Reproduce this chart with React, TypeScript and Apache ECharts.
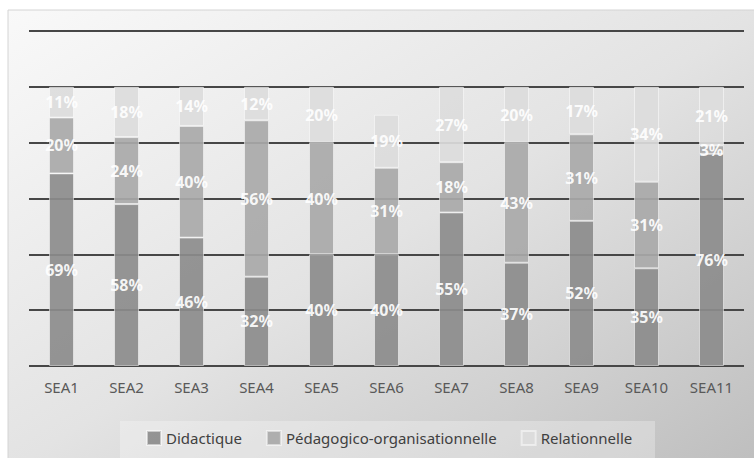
import React, { useEffect, useRef } from "react";
import * as echarts from "echarts";

const categories = ["SEA1", "SEA2", "SEA3", "SEA4", "SEA5", "SEA6", "SEA7", "SEA8", "SEA9", "SEA10", "SEA11"];
const didactique = [69, 58, 46, 32, 40, 40, 55, 37, 52, 35, 76];
const pedagogico = [20, 24, 40, 56, 40, 31, 18, 43, 31, 31, 3];
const relationnelle = [11, 18, 14, 12, 20, 19, 27, 20, 17, 34, 21];
const seriesNames = ["Didactique", "Pédagogico-organisationnelle", "Relationnelle"];

export default function App() {
  const ref = useRef<HTMLDivElement>(null);
  useEffect(() => {
    document.body.style.margin = "0";
    const chart = echarts.init(ref.current!, null, { renderer: "svg" });
    const font = "'Noto Sans', 'Open Sans', sans-serif";
    const label = {
      show: true,
      position: "inside" as const,
      formatter: "{c}%",
      color: "#ffffff",
      fontWeight: "bold" as const,
      fontSize: 16,
      fontFamily: font,
    };
    const mk = (name: string, data: number[], color: string) => ({
      name,
      type: "bar" as const,
      stack: "total",
      data,
      barWidth: 25,
      itemStyle: { color, borderColor: "rgba(255,255,255,0.55)", borderWidth: 1, opacity: 0.92 },
      label,
    });
    chart.setOption({
      animation: false,
      graphic: [
        {
          type: "rect",
          z: -10,
          shape: { x: 8, y: 10, width: 760, height: 460 },
          style: {
            fill: new echarts.graphic.LinearGradient(0, 0, 1, 1, [
              { offset: 0, color: "#f9f9f9" },
              { offset: 0.5, color: "#e3e3e3" },
              { offset: 1, color: "#bdbdbd" },
            ]),
            stroke: "#d4d4d4",
            lineWidth: 1,
          },
        },
        {
          type: "rect",
          z: -9,
          shape: { x: 120, y: 421, width: 535, height: 40 },
          style: { fill: "rgba(255,255,255,0.28)" },
        },
      ],
      grid: { left: 29, right: 10, top: 31, bottom: 92 },
      xAxis: {
        type: "category",
        data: categories,
        axisLine: { show: false },
        axisTick: { show: false },
        axisLabel: { color: "#595959", fontSize: 15, fontFamily: font, margin: 13 },
      },
      yAxis: {
        type: "value",
        min: 0,
        max: 120,
        interval: 20,
        axisLabel: { show: false },
        axisLine: { show: false },
        axisTick: { show: false },
        splitLine: { lineStyle: { color: "#474747", width: 2 } },
      },
      legend: {
        data: seriesNames,
        top: 425,
        left: 141,
        itemWidth: 14,
        itemHeight: 14,
        itemGap: 24,
        icon: "rect",
        textStyle: { color: "#404040", fontSize: 15, fontFamily: font },
      },
      series: [
        mk(seriesNames[0], didactique, "#8c8c8c"),
        mk(seriesNames[1], pedagogico, "#a9a9a9"),
        mk(seriesNames[2], relationnelle, "#dcdcdc"),
      ],
    });
    return () => chart.dispose();
  }, []);
  return <div ref={ref} style={{ width: 754, height: 458 }} />;
}
